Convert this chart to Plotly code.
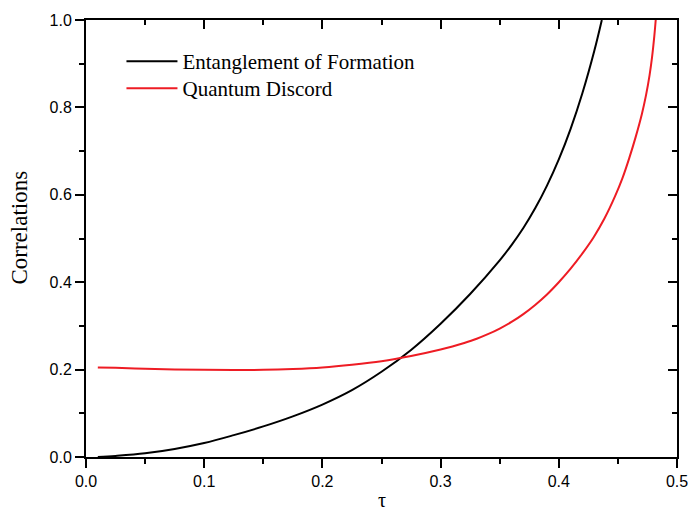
import plotly.graph_objects as go

tau_eof = [0.01, 0.025, 0.05, 0.075, 0.1, 0.125, 0.15, 0.175, 0.2, 0.225, 0.25,
           0.275, 0.3, 0.325, 0.35, 0.36, 0.37, 0.38, 0.39, 0.40, 0.41, 0.42,
           0.43, 0.4364]
eof = [0.000, 0.0025, 0.0085, 0.0185, 0.032, 0.050, 0.070, 0.093, 0.120, 0.153, 0.195,
       0.245, 0.305, 0.373, 0.450, 0.485, 0.524, 0.569, 0.621, 0.681, 0.751, 0.833,
       0.929, 1.0]

tau_qd = [0.01, 0.025, 0.05, 0.075, 0.1, 0.125, 0.15, 0.175, 0.2, 0.225, 0.25,
          0.275, 0.30, 0.31, 0.32, 0.33, 0.34, 0.35, 0.36, 0.37, 0.38, 0.39, 0.40,
          0.41, 0.42, 0.4295, 0.4385, 0.4478, 0.4537, 0.4596, 0.465, 0.4703, 0.4738,
          0.4768, 0.4789, 0.4808, 0.482]
qd = [0.205, 0.204, 0.202, 0.2005, 0.1995, 0.199, 0.1995, 0.2015, 0.205, 0.211, 0.219,
      0.231, 0.246, 0.253, 0.261, 0.270, 0.281, 0.294, 0.309, 0.327, 0.348, 0.372, 0.400,
      0.431, 0.466, 0.503, 0.545, 0.598, 0.637, 0.684, 0.732, 0.785, 0.828,
      0.874, 0.915, 0.963, 1.0]

serif = "Liberation Serif"
sans = "Liberation Sans"

fig = go.Figure()
fig.add_trace(go.Scatter(x=tau_eof, y=eof, mode="lines", name="Entanglement of Formation",
                         legend="legend",
                         line=dict(color="black", width=2, shape="spline", smoothing=1.0)))
fig.add_trace(go.Scatter(x=tau_qd, y=qd, mode="lines", name="Quantum Discord",
                         legend="legend2",
                         line=dict(color="#ee1c24", width=2, shape="spline", smoothing=1.0)))

common = dict(showgrid=False, zeroline=False, linecolor="black", linewidth=2,
              tickcolor="black", tickwidth=1.5, showline=True, automargin=False)
leg = dict(x=0.06, xanchor="left", yanchor="top",
           font=dict(family=serif, size=21, color="black"),
           bgcolor="rgba(0,0,0,0)", itemwidth=51)

# the page body adds an 8px offset; margins are set relative to that
fig.update_layout(
    width=696, height=512,
    margin=dict(l=78, r=27, t=12, b=63),
    plot_bgcolor="white", paper_bgcolor="white",
    showlegend=True,
    legend=dict(y=0.952, **leg),
    legend2=dict(y=0.890, **leg),
    xaxis=dict(range=[0, 0.5], dtick=0.1, tick0=0, ticks="outside", ticklen=9,
               tickformat=".1f", tickfont=dict(family=sans, size=16, color="black"),
               ticklabeloverflow="allow",
               minor=dict(dtick=0.05, ticks="outside", ticklen=5, tickcolor="black", tickwidth=1.5),
               **common),
    yaxis=dict(range=[0, 1.0], dtick=0.2, tick0=0, ticks="outside", ticklen=9,
               tickformat=".1f", tickfont=dict(family=sans, size=16, color="black"),
               ticklabeloverflow="allow",
               minor=dict(dtick=0.1, ticks="outside", ticklen=5, tickcolor="black", tickwidth=1.5),
               **common),
    xaxis2=dict(range=[0, 0.5], dtick=0.1, tick0=0, ticks="inside", ticklen=9,
                showticklabels=False, overlaying="x", side="top", anchor="y",
                minor=dict(dtick=0.05, ticks="inside", ticklen=5, tickcolor="black", tickwidth=1.5),
                **common),
    yaxis2=dict(range=[0, 1.0], dtick=0.2, tick0=0, ticks="inside", ticklen=9,
                showticklabels=False, overlaying="y", side="right", anchor="x",
                minor=dict(dtick=0.1, ticks="inside", ticklen=5, tickcolor="black", tickwidth=1.5),
                **common),
)

fig.add_annotation(text="Correlations", xref="paper", yref="paper", x=0, y=0.525,
                   xanchor="center", yanchor="middle", xshift=-66, textangle=-90,
                   showarrow=False, font=dict(family=serif, size=23, color="black"))
fig.add_annotation(text="τ", xref="paper", yref="paper", x=0.5, y=0,
                   xanchor="center", yanchor="middle", yshift=-43,
                   showarrow=False, font=dict(family=serif, size=20, color="black"))

fig.add_trace(go.Scatter(x=[None], y=[None], xaxis="x2", yaxis="y2", showlegend=False,
                         hoverinfo="skip"))

fig.write_html("out.html")
